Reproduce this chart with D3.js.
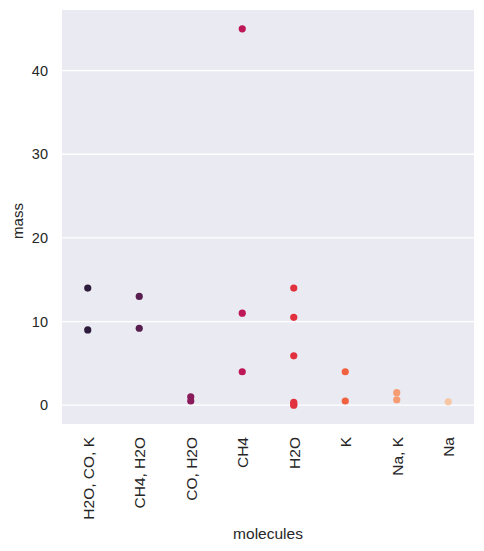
<!DOCTYPE html>
<html>
<head>
<meta charset="utf-8">
<script src="https://cdn.jsdelivr.net/npm/d3@7"></script>
<style>
  body { margin: 0; background: #ffffff; }
  svg text { font-family: "Liberation Sans", Arial, sans-serif; fill: #262626; }
</style>
</head>
<body>
<svg id="chart" width="484" height="551"></svg>
<script>
const categories = ["H2O, CO, K", "CH4, H2O", "CO, H2O", "CH4", "H2O", "K", "Na, K", "Na"];
const pointCategory = [
  "H2O, CO, K", "H2O, CO, K",
  "CH4, H2O", "CH4, H2O",
  "CO, H2O", "CO, H2O",
  "CH4", "CH4", "CH4",
  "H2O", "H2O", "H2O", "H2O", "H2O", "H2O",
  "K", "K",
  "Na, K", "Na, K",
  "Na"
];
const pointMass = [
  14, 9,
  13, 9.2,
  1.0, 0.5,
  45, 11, 4,
  14, 10.5, 5.9, 0.35, 0.1, 0.0,
  4, 0.5,
  1.5, 0.65,
  0.4
];
const yTicks = [0, 10, 20, 30, 40];
const palette = ["#2d1c3c", "#591e50", "#891b5b", "#bd1758", "#e1313f", "#f0623f", "#f59c73", "#f6c6a5"];

const svg = d3.select("#chart");
const margin = { left: 62, right: 10, top: 10, bottom: 127 };
const W = 484, H = 551;

const x = d3.scalePoint().domain(categories)
  .range([margin.left, W - margin.right]).padding(0.5);
const y = d3.scaleLinear().domain([-2.25, 47.25])
  .range([H - margin.bottom, margin.top]);
const color = d3.scaleOrdinal().domain(categories).range(palette);

svg.append("rect")
  .attr("x", margin.left).attr("y", margin.top)
  .attr("width", W - margin.left - margin.right)
  .attr("height", H - margin.top - margin.bottom)
  .attr("fill", "#eaeaf2");

// grid
svg.append("g").selectAll("line").data(yTicks).join("line")
  .attr("x1", margin.left).attr("x2", W - margin.right)
  .attr("y1", d => y(d)).attr("y2", d => y(d))
  .attr("stroke", "#ffffff").attr("stroke-width", 1.3);

// y axis
const yAxis = svg.append("g")
  .attr("transform", `translate(${margin.left},0)`)
  .call(d3.axisLeft(y).tickValues(yTicks).tickSize(0).tickPadding(14));
yAxis.select(".domain").remove();
yAxis.selectAll("text").attr("font-size", "14.5px").style("fill", "#262626");

// x axis
const xAxis = svg.append("g")
  .attr("transform", `translate(0,${H - margin.bottom})`)
  .call(d3.axisBottom(x).tickSize(0).tickPadding(0));
xAxis.select(".domain").remove();
xAxis.selectAll("text")
  .attr("font-size", "15.5px")
  .style("fill", "#262626")
  .attr("text-anchor", "end")
  .attr("dy", "0.35em")
  .attr("transform", "translate(0,13) rotate(-90)")
  .attr("x", 0).attr("y", 0);

// points
const pts = pointMass.map((m, i) => ({ cat: pointCategory[i], mass: m }));
svg.append("g").selectAll("circle").data(pts).join("circle")
  .attr("cx", d => x(d.cat))
  .attr("cy", d => y(d.mass))
  .attr("r", 3.6)
  .attr("fill", d => color(d.cat));

// axis labels
svg.append("text")
  .attr("x", (margin.left + W - margin.right) / 2)
  .attr("y", 539)
  .attr("text-anchor", "middle")
  .attr("font-size", "15.5px")
  .text("molecules");
svg.append("text")
  .attr("transform", `translate(23,${(margin.top + H - margin.bottom) / 2 + 4}) rotate(-90)`)
  .attr("text-anchor", "middle")
  .attr("font-size", "15px")
  .text("mass");
</script>
</body>
</html>
